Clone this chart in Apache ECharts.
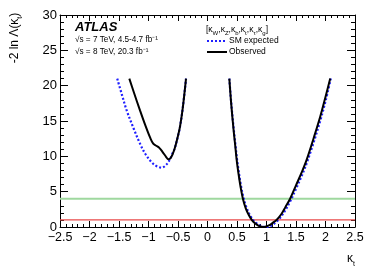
<!DOCTYPE html>
<html><head><meta charset="utf-8">
<script src="https://cdn.jsdelivr.net/npm/echarts@6/dist/echarts.min.js"></script>
<style>html,body{margin:0;padding:0;background:#fff}#c{width:374px;height:271px}</style>
</head><body><div id="c"></div>
<script>
// ---- data ----
var obsLeftK   = [-1.325,-1.25,-1.144,-1.05,-0.97,-0.92,-0.87,-0.817,-0.76,-0.70,-0.665,-0.62,-0.56,-0.50,-0.466,-0.42,-0.364];
var obsLeftV   = [21.0,19.1,16.5,14.3,12.6,11.8,11.5,11.2,10.6,9.9,9.6,9.8,11.0,12.9,14.2,16.8,21.0];
var expLeftK   = [-1.53,-1.45,-1.37,-1.25,-1.144,-1.05,-0.95,-0.86,-0.776,-0.70,-0.636,-0.60,-0.56,-0.50,-0.466,-0.42,-0.364];
var expLeftV   = [21.0,18.7,16.5,13.9,11.8,10.3,9.2,8.6,8.4,8.8,9.6,10.3,11.0,12.9,14.2,16.8,21.0];
var obsRightK  = [0.37,0.40,0.44,0.47,0.50,0.53,0.56,0.60,0.65,0.70,0.75,0.80,0.86,0.92,0.96,1.00,1.05,1.10,1.17,1.25,1.32,1.40,1.50,1.60,1.68,1.80,1.91,2.00,2.08];
var obsRightV  = [21.0,17.6,13.9,11.5,9.1,7.3,5.7,4.0,2.6,1.7,1.0,0.55,0.2,0.03,0.0,0.08,0.25,0.55,1.0,1.8,2.8,4.0,5.9,7.8,9.5,12.6,15.6,18.4,21.0];
var expRightK  = [0.37,0.40,0.44,0.47,0.50,0.53,0.56,0.60,0.65,0.70,0.75,0.80,0.86,0.92,0.96,1.00,1.05,1.10,1.17,1.25,1.32,1.40,1.50,1.60,1.68,1.80,1.91,2.00,2.09];
var expRightV  = [21.0,17.8,14.2,11.9,9.6,7.8,6.2,4.5,3.0,2.0,1.25,0.75,0.35,0.1,0.02,0.0,0.05,0.3,0.75,1.5,2.4,3.6,5.4,7.3,9.0,12.0,15.0,17.8,21.0];
var refLevels  = [1, 4];
var xTicks = ['-2.5','-2','-1.5','-1','-0.5','0','0.5','1','1.5','2','2.5'];
var yTicks = ['0','5','10','15','20','25','30'];

function pairs(k, v){ return k.map(function(x,i){ return [x, v[i]]; }); }

var chart = echarts.init(document.getElementById('c'), null, {renderer:'canvas'});
var F = 'Liberation Sans, Arial, Helvetica, sans-serif';
var axisCommon = {
  axisLine:{show:true, onZero:false, lineStyle:{color:'#000', width:1}},
  splitLine:{show:false}
};
var xMin = parseFloat(xTicks[0]), xMax = parseFloat(xTicks[xTicks.length-1]);
var yMin = parseFloat(yTicks[0]), yMax = parseFloat(yTicks[yTicks.length-1]);

var obsStyle = {color:'#000', width:2};
var expStyle = {color:'#1f1fff', width:2.2, type:[2,2]};

chart.setOption({
  animation:false,
  backgroundColor:'#fff',
  grid:{left:60, right:19, top:15, bottom:44, containLabel:false},
  xAxis:[
    Object.assign({type:'value', min:xMin, max:xMax, interval:0.5, position:'bottom',
      axisTick:{show:true, inside:true, length:6, lineStyle:{color:'#000'}},
      minorTick:{show:true, splitNumber:5, length:3, lineStyle:{color:'#000'}},
      axisLabel:{show:true, margin:4, fontSize:12.5, color:'#000', fontFamily:F,
        formatter:function(v){ return String(v).replace('-', '\u2212'); }}
    }, axisCommon),
    Object.assign({type:'value', min:xMin, max:xMax, interval:0.5, position:'top',
      axisTick:{show:true, inside:true, length:6, lineStyle:{color:'#000'}},
      minorTick:{show:true, splitNumber:5, length:3, lineStyle:{color:'#000'}},
      axisLabel:{show:false}
    }, axisCommon)
  ],
  yAxis:[
    Object.assign({type:'value', min:yMin, max:yMax, interval:5, position:'left',
      axisTick:{show:true, inside:true, length:8, lineStyle:{color:'#000'}},
      minorTick:{show:true, splitNumber:5, length:4, lineStyle:{color:'#000'}},
      axisLabel:{show:true, margin:3, fontSize:13, color:'#000', fontFamily:F}
    }, axisCommon),
    Object.assign({type:'value', min:yMin, max:yMax, interval:5, position:'right',
      axisTick:{show:true, inside:true, length:8, lineStyle:{color:'#000'}},
      minorTick:{show:true, splitNumber:5, length:4, lineStyle:{color:'#000'}},
      axisLabel:{show:false}
    }, axisCommon)
  ],
  series:[
    {type:'line', name:'ref1', data:[[xMin, refLevels[0]],[xMax, refLevels[0]]], showSymbol:false, symbol:'none',
      lineStyle:{color:'#e84a4a', width:1.2}, z:1},
    {type:'line', name:'ref4', data:[[xMin, refLevels[1]],[xMax, refLevels[1]]], showSymbol:false, symbol:'none',
      lineStyle:{color:'#9fd89f', width:2}, z:1},
    {type:'line', name:'Observed L', data:pairs(obsLeftK, obsLeftV), smooth:0.35, symbol:'none', lineStyle:obsStyle, z:3},
    {type:'line', name:'Observed R', data:pairs(obsRightK, obsRightV), smooth:0.35, symbol:'none', lineStyle:obsStyle, z:3},
    {type:'line', name:'Expected L', data:pairs(expLeftK, expLeftV), smooth:0.35, symbol:'none', lineStyle:expStyle, z:2},
    {type:'line', name:'Expected R', data:pairs(expRightK, expRightV), smooth:0.35, symbol:'none', lineStyle:expStyle, z:2}
  ],
  graphic:[
    {type:'text', x:75, y:27, style:{text:'ATLAS', font:'italic bold 13px '+F, fill:'#000', verticalAlign:'middle'}},
    {type:'text', x:75, y:40, style:{text:'\u221As = 7 TeV, 4.5-4.7 fb\u207B\u00B9', font:'8.2px '+F, fill:'#000', verticalAlign:'middle'}},
    {type:'text', x:75, y:51.5, style:{text:'\u221As = 8 TeV, 20.3 fb\u207B\u00B9', font:'8.2px '+F, fill:'#000', verticalAlign:'middle'}},
    {type:'text', x:206, y:29, style:{
      text:'{a|[\u03BA}{s|W}{a|,\u03BA}{s|Z}{a|,\u03BA}{s|b}{a|,\u03BA}{s|t}{a|,\u03BA}{s|\u03C4}{a|,\u03BA}{s|g}{a|]}',
      verticalAlign:'middle',
      rich:{a:{fontSize:8.5, fontFamily:F, fill:'#000', lineHeight:10, verticalAlign:'bottom'},
            s:{fontSize:6, fontFamily:F, fill:'#000', lineHeight:10, verticalAlign:'bottom', padding:[0,0,-2,0]}}}},
    {type:'line', shape:{x1:207, y1:41, x2:227, y2:41}, style:{stroke:'#1f1fff', lineWidth:2, lineDash:[2,2]}},
    {type:'text', x:229, y:41, style:{text:'SM expected', font:'8.5px '+F, fill:'#000', verticalAlign:'middle'}},
    {type:'line', shape:{x1:207, y1:52, x2:227, y2:52}, style:{stroke:'#000', lineWidth:2}},
    {type:'text', x:229, y:52, style:{text:'Observed', font:'8.5px '+F, fill:'#000', verticalAlign:'middle'}},
    {type:'text', x:355, y:258, style:{
      text:'{a|\u03BA}{s|t}', align:'right', verticalAlign:'middle',
      rich:{a:{fontSize:12, fontFamily:F, fill:'#000', lineHeight:13, verticalAlign:'bottom'},
            s:{fontSize:7, fontFamily:F, fill:'#000', lineHeight:13, verticalAlign:'bottom', padding:[0,0,-3,0]}}}},
    {type:'text', x:14, y:38, rotation:Math.PI/2, style:{
      text:'{a|-2 ln \u039B(\u03BA}{s|t}{a|)}', align:'center', verticalAlign:'middle',
      rich:{a:{fontSize:12, fontFamily:F, fill:'#000', lineHeight:13, verticalAlign:'bottom'},
            s:{fontSize:7, fontFamily:F, fill:'#000', lineHeight:13, verticalAlign:'bottom', padding:[0,0,-3,0]}}}}
  ]
});
</script></body></html>
